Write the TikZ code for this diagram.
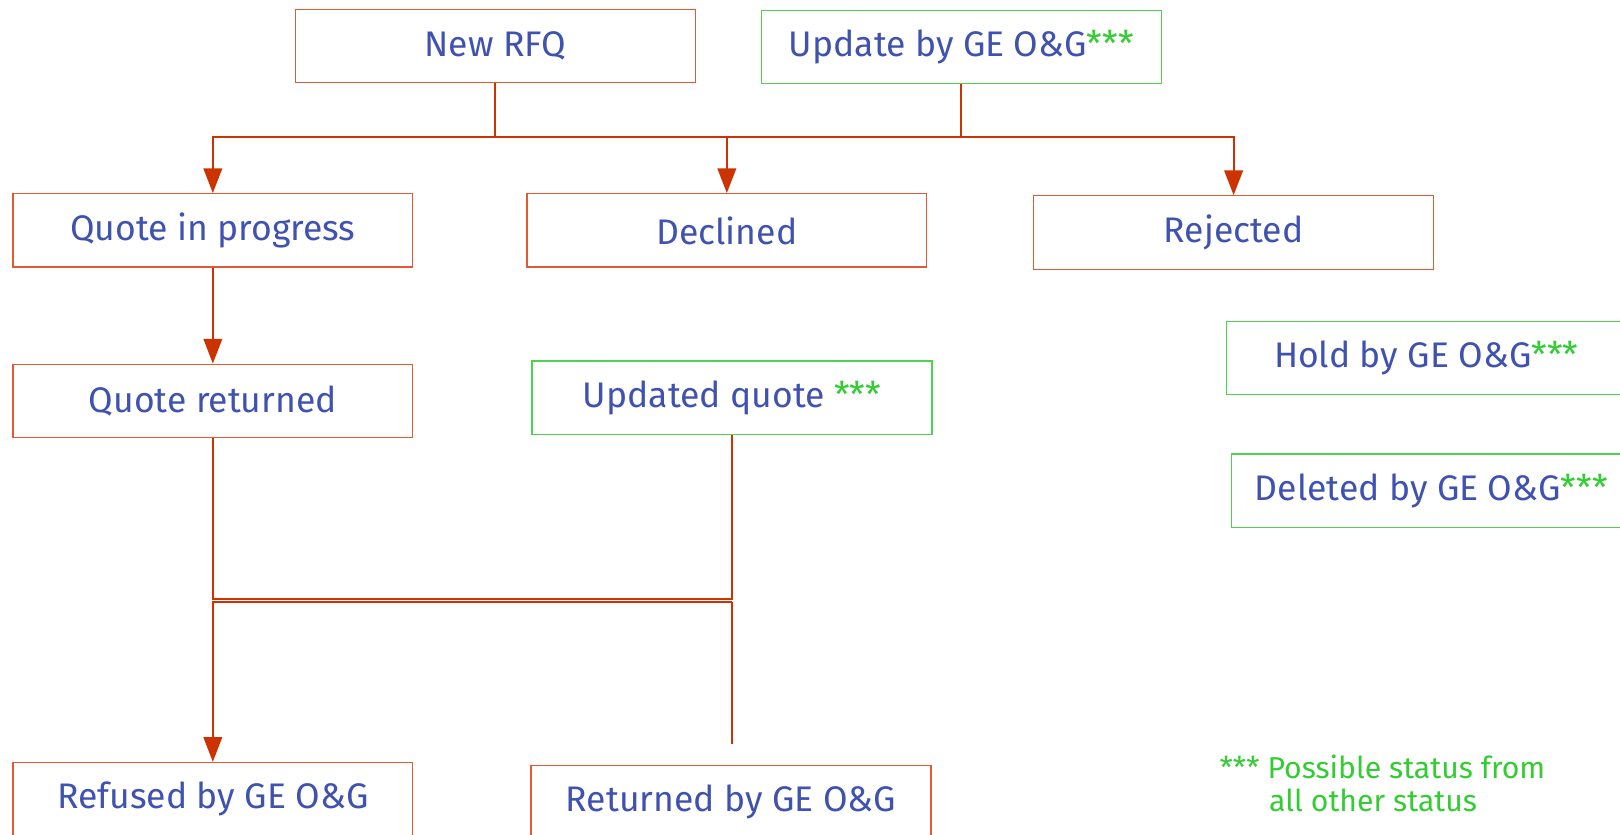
\documentclass[tikz,border=0pt]{standalone}
\usepackage{fontspec}
\setmainfont{Fira Sans}
\usetikzlibrary{arrows.meta}
\definecolor{txtblue}{RGB}{64,82,176}
\definecolor{lineor}{RGB}{204,51,0}
\definecolor{boxor}{RGB}{226,90,50}
\definecolor{boxgr}{RGB}{80,210,80}
\definecolor{txtgr}{RGB}{51,204,51}
\begin{document}
\begin{tikzpicture}[x=0.5pt,y=-0.5pt,
 box/.style={draw=boxor, line width=0.6pt, minimum width=193.5pt, minimum height=35.5pt, inner sep=0pt, text=txtblue, font=\fontsize{17.2}{20}\selectfont},
 gbox/.style={box, draw=boxgr},
 conn/.style={draw=lineor, line width=1pt},
 arr/.style={conn, -{Triangle[length=12pt,width=9pt]}},
 st/.style={text=txtgr, inner sep=0pt, font=\fontsize{14.6}{18}\selectfont}]
\useasboundingbox (0,0) rectangle (1568,808);
\clip (0,0) rectangle (1568,808);
\node[box] (rfq) at (479.5,44.5) {New RFQ};
\node[gbox] (upd) at (930.5,45.5) {Update by GE O\&G\textcolor{txtgr}{***}};
\node[box] (qip) at (206,223) {Quote in progress};
\node[box] (dec) at (703.5,223) {Declined};
\node[box] (rej) at (1194,225) {Rejected};
\node[box] (qr) at (206,388) {Quote returned};
\node[gbox] (uq) at (708.5,385) {Updated quote \textcolor{txtgr}{***}};
\node[gbox] (hold) at (1380.5,346.5) {Hold by GE O\&G\textcolor{txtgr}{***}};
\node[gbox] (del) at (1385.5,475) {Deleted by GE O\&G\textcolor{txtgr}{***}};
\node[box] (ref) at (206,773.5) {Refused by GE O\&G};
\node[box] (ret) at (707.5,776.5) {Returned by GE O\&G};
\coordinate (bus) at (0,133);
\coordinate (busa) at (0,580);
\coordinate (busb) at (0,582.5);
\draw[arr] (rfq.south) -- (rfq.south |- bus) -| (qip.north);
\draw[arr] (rfq.south |- bus) -| (dec.north);
\draw[conn] (upd.south) -- (upd.south |- bus);
\draw[arr] (upd.south |- bus) -| (rej.north);
\draw[conn] (upd.south |- bus) -- (dec.north |- bus);
\draw[arr] (qip.south) -- (qr.north);
\draw[conn] (qr.south) -- (qr.south |- busa) -| (uq.south);
\draw[arr] (uq.south |- busb) -| (ref.north);
\draw[conn] (uq.south |- busb) -- ++(0,137.5) coordinate (rend);
\node[st, anchor=west] (note1) at (1180,742) {*** Possible status from};
\node[st, anchor=west] (note2) at (1228,775) {all other status};
\end{tikzpicture}
\end{document}
